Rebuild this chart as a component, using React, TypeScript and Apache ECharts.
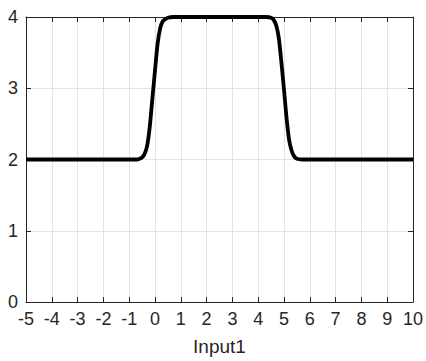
import React, { useEffect, useRef } from "react";
import * as echarts from "echarts";

const xValues = [
  -5, -1, -0.7, -0.6, -0.5, -0.4, -0.3, -0.2, -0.1, 0, 0.1, 0.2, 0.3, 0.4, 0.5, 0.7, 1,
  4, 4.3, 4.5, 4.6, 4.7, 4.8, 4.9, 5.0, 5.1, 5.2, 5.3, 5.4, 5.5, 5.7, 6, 10,
];
const yValues = [
  2, 2, 2.0, 2.01, 2.03, 2.08, 2.2, 2.47, 2.86, 3.25, 3.62, 3.84, 3.94, 3.97, 3.99, 4, 4,
  4, 4, 3.99, 3.96, 3.88, 3.7, 3.36, 2.98, 2.58, 2.27, 2.12, 2.04, 2.01, 2, 2, 2,
];
const xTicks = [-5, -4, -3, -2, -1, 0, 1, 2, 3, 4, 5, 6, 7, 8, 9, 10];
const yTicks = [0, 1, 2, 3, 4];
const xLabel = "Input1";

export default function App() {
  const ref = useRef<HTMLDivElement>(null);
  useEffect(() => {
    document.body.style.margin = "0";
    const chart = echarts.init(ref.current!, null, { renderer: "svg" });
    const font = "'Liberation Sans', Arial, Helvetica, sans-serif";
    const axisColor = "#262626";
    const data = xValues.map((x, i) => [x, yValues[i]]);
    const line = { show: true, onZero: false, lineStyle: { color: axisColor, width: 1 } };
    const tick = { show: true, inside: true, length: 5, lineStyle: { color: axisColor } };
    chart.setOption({
      animation: false,
      backgroundColor: "#ffffff",
      grid: { left: 26, right: 13, top: 17, bottom: 56, containLabel: false },
      xAxis: [
        {
          type: "value",
          min: xTicks[0],
          max: xTicks[xTicks.length - 1],
          interval: 1,
          position: "bottom",
          name: xLabel,
          nameLocation: "middle",
          nameGap: 35,
          nameTextStyle: { fontFamily: font, fontSize: 19, color: axisColor },
          axisLine: line,
          axisTick: tick,
          axisLabel: { fontFamily: font, fontSize: 18, color: axisColor, margin: 8 },
          splitLine: { show: true, lineStyle: { color: "#e3e3e3", width: 1 } },
        },
        {
          type: "value",
          min: xTicks[0],
          max: xTicks[xTicks.length - 1],
          interval: 1,
          position: "top",
          axisLine: line,
          axisTick: tick,
          axisLabel: { show: false },
          splitLine: { show: false },
        },
      ],
      yAxis: [
        {
          type: "value",
          min: yTicks[0],
          max: yTicks[yTicks.length - 1],
          interval: 1,
          position: "left",
          axisLine: line,
          axisTick: tick,
          axisLabel: { fontFamily: font, fontSize: 18, color: axisColor, margin: 8 },
          splitLine: { show: true, lineStyle: { color: "#e3e3e3", width: 1 } },
        },
        {
          type: "value",
          min: yTicks[0],
          max: yTicks[yTicks.length - 1],
          interval: 1,
          position: "right",
          axisLine: line,
          axisTick: tick,
          axisLabel: { show: false },
          splitLine: { show: false },
        },
      ],
      series: [
        {
          type: "line",
          xAxisIndex: 0,
          yAxisIndex: 0,
          data,
          showSymbol: false,
          smooth: 0.3,
          clip: false,
          lineStyle: { color: "#000000", width: 3.8 },
          z: 5,
        },
      ],
    });
    return () => chart.dispose();
  }, []);
  return <div ref={ref} style={{ width: 426, height: 361 }} />;
}
